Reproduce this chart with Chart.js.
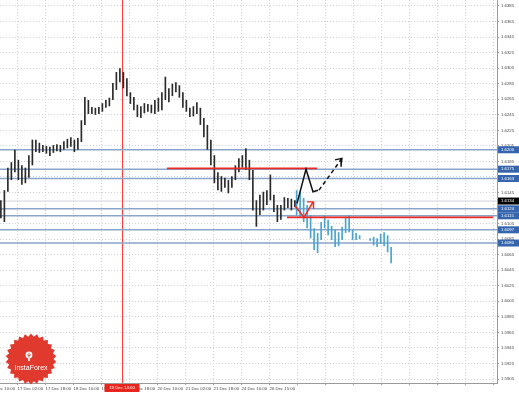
<!DOCTYPE html>
<html><head><meta charset="utf-8">
<script src="https://cdn.jsdelivr.net/npm/chart.js@4.4.0/dist/chart.umd.min.js"></script>
<style>html,body{margin:0;padding:0;background:#fff;overflow:hidden}</style>
</head><body>
<canvas id="c" width="519" height="394"></canvas>
<script>
// ---- data (x = 2-hour bar index, y = GBP/USD price) ----
const blackHigh = [1.6135,1.6148,1.6177,1.6184,1.6200,1.6187,1.6180,1.6177,1.6193,1.6213,
 1.6213,1.6209,1.6206,1.6205,1.6204,1.6206,1.6207,1.6206,1.6211,1.6214,
 1.6216,1.6213,1.6215,1.6238,1.6268,1.6264,1.6255,1.6254,1.6255,1.6260,
 1.6264,1.6267,1.6286,1.6300,1.6305,1.6300,1.6292,1.6274,1.6268,1.6258,
 1.6256,1.6260,1.6259,1.6258,1.6264,1.6267,1.6274,1.6294,1.6279,1.6285,
 1.6287,1.6283,1.6274,1.6264,1.6254,1.6256,1.6261,1.6254,1.6241,1.6232,
 1.6213,1.6193,1.6171,1.6166,1.6164,1.6161,1.6166,1.6180,1.6189,1.6193,
 1.6202,1.6187,1.6174,1.6135,1.6142,1.6146,1.6148,1.6168,1.6142,1.6129,
 1.6129,1.6139,1.6138,1.6137,1.6135];
const blackLow = [1.6112,1.6107,1.6146,1.6161,1.6171,1.6161,1.6155,1.6157,1.6164,1.6180,
 1.6197,1.6196,1.6197,1.6195,1.6192,1.6196,1.6198,1.6197,1.6200,1.6202,
 1.6204,1.6197,1.6200,1.6210,1.6232,1.6246,1.6246,1.6245,1.6246,1.6249,
 1.6254,1.6256,1.6264,1.6277,1.6287,1.6279,1.6269,1.6259,1.6251,1.6242,
 1.6241,1.6247,1.6249,1.6247,1.6246,1.6249,1.6251,1.6264,1.6261,1.6269,
 1.6274,1.6267,1.6254,1.6249,1.6242,1.6243,1.6246,1.6232,1.6216,1.6200,
 1.6180,1.6157,1.6148,1.6146,1.6151,1.6144,1.6151,1.6161,1.6171,1.6177,
 1.6174,1.6161,1.6122,1.6101,1.6116,1.6122,1.6129,1.6135,1.6120,1.6107,
 1.6110,1.6122,1.6125,1.6122,1.6126];
const blueStart = 84;
const blueHigh = [1.6148,1.6146,1.6138,1.6129,1.6116,1.6099,1.6093,1.6107,1.6116,1.6110,
 1.6102,1.6097,1.6094,1.6101,1.6112,1.6116,1.6097,1.6093,1.6090,null,
 null,1.6086,1.6088,1.6086,1.6092,1.6094,1.6090,1.6075];
const blueLow = [1.6116,1.6113,1.6107,1.6099,1.6086,1.6071,1.6067,1.6084,1.6099,1.6090,
 1.6084,1.6075,1.6076,1.6084,1.6093,1.6094,1.6084,1.6084,1.6085,null,
 null,1.6083,1.6077,1.6075,1.6079,1.6076,1.6068,1.6054];

const priceTicks = [1.6385,1.6365,1.6345,1.6325,1.6305,1.6285,1.6265,1.6245,1.6225,1.6205,
 1.6185,1.6165,1.6145,1.6125,1.6105,1.6085,1.6065,1.6045,1.6025,1.6005,
 1.5985,1.5965,1.5945,1.5925,1.5905];
const timeTickPos = [-3.5,4.5,12.5,20.5,28.5,36.5,44.5,52.5,60.5,68.5,76.5,84.5,92.5,100.5,108.5,116.5,124.5,132.5,140.5];
const timeTickLabels = ['16 Dec 10:00','17 Dec 02:00','17 Dec 18:00','18 Dec 10:00','19 Dec 02:00',
 '19 Dec 18:00','20 Dec 10:00','21 Dec 02:00','21 Dec 18:00','24 Dec 10:00','26 Dec 15:00'];

const levelPrices = [1.6200,1.6175,1.6163,1.6124,1.6115,1.6097,1.6080];
const bidPrice = 1.6134;
const markerTime = 34.5;
const markerLabel = '19 Dec 14:00';
const redFrom = [47.2, 81.5];
const redTo = [90.1, 140.4];
const redPrice = [1.6176, 1.6113];
const zigT = [84.36, 86.93, 88.93, 90.36];
const zigP = [1.6131, 1.6175, 1.6146, 1.6148];
const dashT = [90.64, 97.21];
const dashP = [1.6148, 1.6189];
const dashHeadT = [95.21, 97.21, 96.93];
const dashHeadP = [1.6187, 1.6189, 1.6178];
const redArrT = [83.79, 86.36, 88.93];
const redArrP = [1.6128, 1.6113, 1.6133];
const redHeadT = [87.21, 88.93, 89.1];
const redHeadP = [1.6133, 1.6133, 1.6124];

const xMin = -0.5, xMax = 141.5, yMin = 1.58999, yMax = 1.63927;
const FONT = 'Liberation Sans';

const pts = (ts, ps) => ts.map((t, i) => ({x: t, y: ps[i]}));
const lineDs = (data, color, width, order, dash) => ({
  type: 'line', data, borderColor: color, borderWidth: width, pointRadius: 0,
  fill: false, tension: 0, order, borderDash: dash || [], borderCapStyle: 'butt'
});

const datasets = [];
datasets.push(lineDs(pts(zigT, zigP), '#111', 1.5, 0));
datasets.push(lineDs(pts(dashT, dashP), '#111', 1.5, 0, [4, 3]));
datasets.push(lineDs(pts(dashHeadT, dashHeadP), '#111', 1.3, 0));
datasets.push(lineDs(pts(redArrT, redArrP), '#ec2a24', 1.5, 0));
datasets.push(lineDs(pts(redHeadT, redHeadP), '#ec2a24', 1.3, 0));
redPrice.forEach((p, i) => datasets.push(lineDs([{x: redFrom[i], y: p}, {x: redTo[i], y: p}], '#ec2a24', 1.6, 1)));
datasets.push({
  type: 'bar', order: 2, grouping: false, categoryPercentage: 1, barPercentage: 0.95,
  backgroundColor: '#2a2a2a',
  data: blackHigh.map((h, i) => ({x: i, y: [blackLow[i], h]}))
});
datasets.push({
  type: 'bar', order: 3, grouping: false, categoryPercentage: 1, barPercentage: 0.95,
  backgroundColor: '#4ba3cf',
  data: blueHigh.map((h, i) => h === null ? null : ({x: blueStart + i, y: [blueLow[i], h]})).filter(d => d)
});
levelPrices.forEach(p => datasets.push(lineDs([{x: xMin, y: p}, {x: xMax, y: p}], '#8aa5ca', 1.5, 4)));
datasets.push(lineDs([{x: xMin, y: bidPrice}, {x: xMax, y: bidPrice}], '#cfd3da', 1, 5));
datasets.push(lineDs([{x: markerTime, y: yMin}, {x: markerTime, y: yMax}], '#ff3b3b', 1, 4));

const overlay = {
  id: 'overlay',
  afterDraw(chart) {
    const {ctx, chartArea, scales: {x, y}} = chart;
    ctx.save();
    ctx.font = '4.3px "' + FONT + '"';
    ctx.textBaseline = 'middle';
    ctx.textAlign = 'left';
    const boxX = chartArea.right + 1, boxW = chart.width - boxX;
    levelPrices.forEach(p => {
      const py = y.getPixelForValue(p);
      ctx.fillStyle = '#3465ad';
      ctx.fillRect(boxX, py - 3.5, boxW, 7);
      ctx.fillStyle = '#fff';
      ctx.fillText(p.toFixed(4), boxX + 3, py);
    });
    const by = y.getPixelForValue(bidPrice);
    ctx.fillStyle = '#000';
    ctx.fillRect(boxX, by - 3.5, boxW, 7);
    ctx.fillStyle = '#fff';
    ctx.fillText(bidPrice.toFixed(4), boxX + 3, by);
    const mx = x.getPixelForValue(markerTime);
    ctx.fillStyle = '#e8261f';
    ctx.fillRect(mx - 18, chartArea.bottom + 1, 35, 8);
    ctx.fillStyle = '#fff';
    ctx.textAlign = 'center';
    ctx.fillText(markerLabel, mx - 0.5, chartArea.bottom + 5);
    const cx = chartArea.left + 31, cy = chartArea.bottom - 24, n = 26;
    ctx.beginPath();
    for (let k = 0; k < 2 * n; k++) {
      const r = k % 2 ? 22.5 : 25.5;
      const a = k * Math.PI / n - Math.PI / 2;
      const px = cx + r * Math.cos(a), py = cy + r * Math.sin(a);
      if (k) ctx.lineTo(px, py); else ctx.moveTo(px, py);
    }
    ctx.closePath();
    ctx.fillStyle = '#e03a2e';
    ctx.fill();
    ctx.fillStyle = '#fff';
    ctx.beginPath();
    ctx.arc(cx - 2, cy - 4, 3.4, 0, Math.PI * 2);
    ctx.fill();
    ctx.fillRect(cx - 2.8, cy - 1.5, 1.6, 3.5);
    ctx.strokeStyle = '#e03a2e';
    ctx.lineWidth = 0.8;
    ctx.beginPath();
    ctx.moveTo(cx - 2, cy - 6.5); ctx.lineTo(cx - 2, cy - 1.5);
    ctx.moveTo(cx - 4, cy - 4.5); ctx.lineTo(cx - 2, cy - 3); ctx.lineTo(cx, cy - 4.5);
    ctx.stroke();
    ctx.fillStyle = '#fff';
    ctx.font = '7px "' + FONT + '"';
    ctx.fillText('InstaForex', cx, cy + 9);
    ctx.restore();
  }
};

new Chart(document.getElementById('c'), {
  type: 'bar',
  data: {datasets},
  options: {
    responsive: false, animation: false, devicePixelRatio: 1,
    layout: {padding: 0},
    plugins: {legend: {display: false}, tooltip: {enabled: false}},
    scales: {
      x: {
        type: 'linear', min: xMin, max: xMax, offset: false, position: 'bottom',
        afterBuildTicks: s => { s.ticks = timeTickPos.map(v => ({value: v})); },
        afterFit: s => { s.height = 11; s.paddingLeft = 0; s.paddingRight = 0; },
        ticks: {autoSkip: false, maxRotation: 0, minRotation: 0, align: 'start', padding: 1,
          font: {size: 4.3, family: FONT}, color: '#444',
          callback: (v, i) => timeTickLabels[i] || ''},
        grid: {offset: false, color: '#d2d2d2', tickLength: 2, tickColor: '#9a9a9a'},
        border: {color: '#9a9a9a', width: 1, dash: [1, 2]}
      },
      y: {
        type: 'linear', min: yMin, max: yMax, position: 'right',
        afterBuildTicks: s => { s.ticks = priceTicks.map(v => ({value: v})); },
        afterFit: s => { s.width = 22; s.paddingTop = 0; s.paddingBottom = 0; },
        ticks: {padding: 2, font: {size: 4.3, family: FONT}, color: '#444',
          callback: v => Number(v).toFixed(4)},
        grid: {color: '#d2d2d2', tickLength: 2, tickColor: '#9a9a9a'},
        border: {color: '#9a9a9a', width: 1, dash: [1, 2]}
      }
    }
  },
  plugins: [overlay]
});
</script>
</body></html>
